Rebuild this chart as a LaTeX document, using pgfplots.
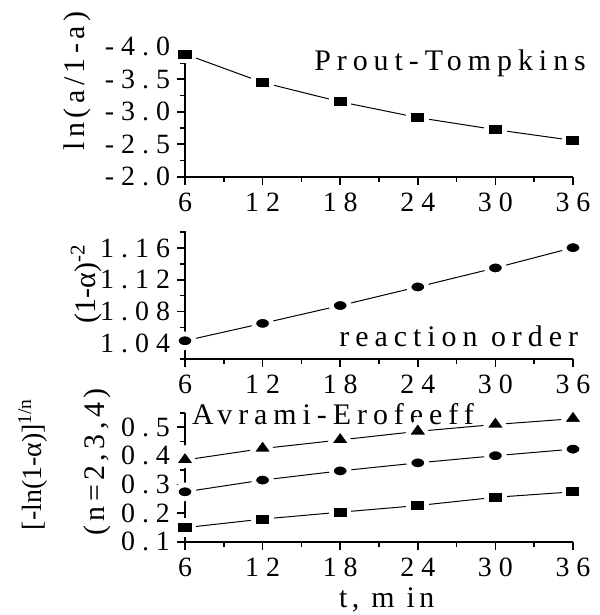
\documentclass[border=0pt]{standalone}
\usepackage{fontspec}
\setmainfont{Liberation Serif}
\newfontfamily\tickfont[LetterSpace=25]{Liberation Serif}
\newfontfamily\labfont[LetterSpace=20]{Liberation Serif}
\newfontfamily\labfontB[LetterSpace=15]{Liberation Serif}
\usepackage{pgfplots}
\pgfplotsset{compat=1.18}
\pgfplotsset{
 panel/.style={
  scale only axis, width=194bp, clip=false,
  axis lines*=left,
  xmin=6, xmax=36, xtick={6,12,...,36}, minor xtick={9,15,...,33},
  xticklabels={6,12,18,24,30,36},
  axis line style={line width=1bp},
  major tick length=4bp, minor tick length=2.5bp,
  tick style={line width=0.8bp, black},
  tick align=outside,
  every tick label/.append style={font=\tickfont\fontsize{14}{16}\selectfont},
  xticklabel style={yshift=-0.5bp},
  label style={font=\fontsize{15}{18}\selectfont},
 },
 dl/.style={black, line width=0.5bp},
 msq/.style={mark=square*, mark size=4.45bp, mark options={draw=white, fill=black, line width=2.4bp, yscale=0.775}},
 mci/.style={mark=*, mark size=4.45bp, mark options={draw=white, fill=black, line width=2.4bp, yscale=0.775}},
 mtr/.style={mark=triangle*, mark size=7bp, mark options={draw=white, fill=black, line width=2.4bp, yscale=0.8}},
}
\begin{document}
\begin{tikzpicture}
\path[use as bounding box] (0,0) rectangle (300bp,-307.5bp);
% Panel 1
\begin{axis}[panel, at={(92.5bp,-88.35bp)}, anchor=south west, height=65bp,
  y dir=reverse, ymin=-4, ymax=-2, ytick={-4,-3.5,-3,-2.5,-2},
  minor ytick={-3.75,-3.25,-2.75,-2.25},
  yticklabels={-4.0,-3.5,-3.0,-2.5,-2.0},
  ylabel={\labfontB ln(a/1-a)},
  ylabel style={at={(axis description cs:-0.278,0.736)}, anchor=center},
]
\addplot[dl, msq] coordinates {(6,-3.887) (12,-3.45) (18,-3.153) (24,-2.91) (30,-2.724) (36,-2.558)};
\node[anchor=base west, font=\labfont\fontsize{15}{18}\selectfont] at (axis description cs:0.315,0.82) {Prout-Tompkins};
\end{axis}
% Panel 2
\begin{axis}[panel, at={(92.5bp,-179.5bp)}, anchor=south west, height=64.15bp,
  ymin=1.02, ymax=1.182, ytick={1.04,1.08,1.12,1.16},
  minor ytick={1.02,1.06,1.10,1.14,1.18},
  yticklabels={1.04,1.08,1.12,1.16},
  ylabel={(1-α)\textsuperscript{-2}},
  ylabel style={at={(axis description cs:-0.255,0.585)}, anchor=center},
]
\addplot[dl, mci] coordinates {(6,1.043) (12,1.065) (18,1.0875) (24,1.111) (30,1.135) (36,1.1606)};
\node[anchor=base west, font=\labfont\fontsize{15}{18}\selectfont] at (axis description cs:0.38,0.096) {reaction order};
\end{axis}
% Panel 3
\begin{axis}[panel, at={(92.5bp,-270.85bp)}, anchor=south west, height=64.5bp,
  ymin=0.1, ymax=0.55, ytick={0.1,0.2,0.3,0.4,0.5},
  minor ytick={0.15,0.25,0.35,0.45,0.55},
  yticklabels={0.1,0.2,0.3,0.4,0.5},
  ylabel={[-ln(1-α)]\textsuperscript{1/n}},
  ylabel style={at={(axis description cs:-0.392,0.60)}, anchor=center, font=\fontsize{14}{16}\selectfont},
  xlabel={\labfontB t, m in},
  xlabel style={at={(axis description cs:0.52,-0.35)}, anchor=north, inner sep=0pt},
]
\addplot[dl, mtr] coordinates {(6,0.385) (12,0.425) (18,0.455) (24,0.485) (30,0.509) (36,0.529)};
\addplot[dl, mci] coordinates {(6,0.274) (12,0.315) (18,0.347) (24,0.375) (30,0.40) (36,0.423)};
\addplot[dl, msq] coordinates {(6,0.149) (12,0.179) (18,0.203) (24,0.226) (30,0.255) (36,0.274)};
\node[rotate=90, anchor=center, font=\labfontB\fontsize{15}{18}\selectfont] at (axis description cs:-0.227,0.618) {(n=2,3,4)};
\node[anchor=base west, font=\labfont\fontsize{15}{18}\selectfont] at (axis description cs:0.0,0.905) {Avrami-Erofeeff};
\end{axis}
\end{tikzpicture}
\end{document}
